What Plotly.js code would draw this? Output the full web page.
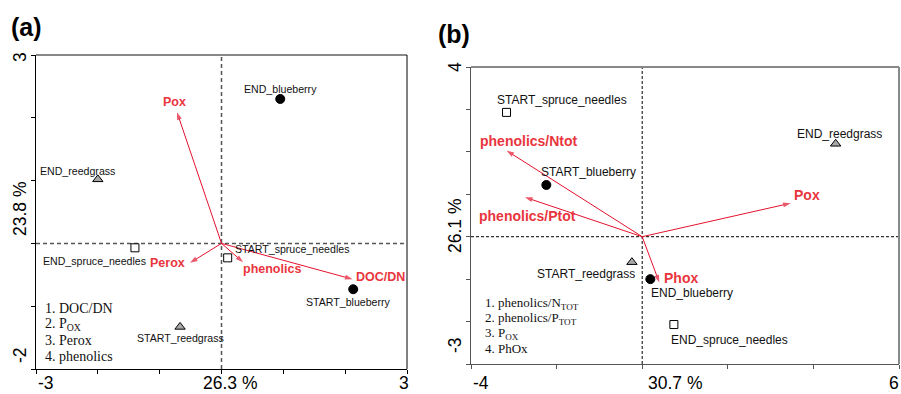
<!DOCTYPE html>
<html>
<head>
<meta charset="utf-8">
<script src="https://cdn.plot.ly/plotly-3.0.1.min.js"></script>
<style>html,body{margin:0;padding:0;background:#fff}#chart{width:901px;height:394px}</style>
</head>
<body>
<div id="chart"></div>
<script>
// ---------- DATA ----------
// Panel (a)
const samplesA = ["END_blueberry","END_reedgrass","END_spruce_needles","START_spruce_needles","START_blueberry","START_reedgrass"];
const sampleXA = [0.95, -2.00, -1.40, 0.10, 2.13, -0.67];
const sampleYA = [2.30, 1.02, -0.07, -0.23, -0.73, -1.33];
const varsA = ["Pox","Perox","phenolics","DOC/DN"];
const varXA = [-0.72, -0.51, 0.35, 2.12];
const varYA = [2.09, -0.31, -0.30, -0.57];
const legendA = ["1. DOC/DN","2. P<sub>OX</sub>","3. Perox","4. phenolics"];
const axisA = {xmin:"-3", xmax:"3", xtitle:"26.3 %", ymin:"-2", ymax:"3", ytitle:"23.8 %"};

// Panel (b)
const samplesB = ["START_spruce_needles","END_reedgrass","START_blueberry","START_reedgrass","END_blueberry","END_spruce_needles"];
const sampleXB = [-3.17, 4.52, -2.24, -0.24, 0.19, 0.74];
const sampleYB = [2.93, 2.19, 1.22, -0.60, -1.00, -2.07];
const varsB = ["phenolics/Ntot","phenolics/Ptot","Pox","Phox"];
const varXB = [-3.17, -2.74, 3.47, 0.40];
const varYB = [2.03, 0.93, 0.79, -1.08];
const legendB = ["1. phenolics/N<sub>TOT</sub>","2. phenolics/P<sub>TOT</sub>","3. P<sub>OX</sub>","4. PhOx"];
const axisB = {xmin:"-4", xmax:"6", xtitle:"30.7 %", ymin:"-3", ymax:"4", ytitle:"26.1 %"};

// ---------- STYLE ----------
const W = 901, H = 394;
const PX = x => x / W, PY = y => 1 - y / H;
const ARROW = '#e3122d', LABEL = '#e9353d';
const SANS = 'Liberation Sans, Arial, sans-serif';
const SERIF = 'Liberation Serif, Times New Roman, serif';

function markerStyle(name){
  if (name.indexOf('blueberry') >= 0) return {symbol:'circle', color:'#000', size:9};
  if (name.indexOf('reedgrass') >= 0) return {symbol:'triangle-up', color:'#a8a8a8', size:9};
  return {symbol:'square', color:'#fff', size:8};
}

// label offsets (pixels) [xanchor, xshift, yshift]
const labOffA = [['center',0,10],['center',-20,8],['center',-40,-13],['left',5,9],['center',-5,-13],['center',0,-11]];
const labOffB = [['center',55,12],['center',4,10],['center',42,13],['right',5,-12],['left',-1,-14],['left',-5,-15]];
const varOffA = [['center',-2,10],['right',-3,0],['left',-2,-7],['left',1,2]];
const varOffB = [['left',-29,10],['left',-48,-19],['left',1,8],['left',3,5]];

const data = [];
const annotations = [];
const shapes = [];

function pointsTrace(names, xs, ys, xa, ya){
  const st = names.map(markerStyle);
  return {
    type:'scatter', mode:'markers', x:xs, y:ys, xaxis:xa, yaxis:ya,
    hoverinfo:'text', text:names, cliponaxis:false,
    marker:{symbol:st.map(s=>s.symbol), color:st.map(s=>s.color), size:st.map(s=>s.size),
            opacity:1, line:{color:'#000', width:1}}
  };
}

function panel(samples, sx, sy, vars, vx, vy, offS, offV, xa, ya, fsLab, fsVar){
  // arrows from the origin to each variable's loading
  vars.forEach((v,i)=>{
    data.push({type:'scatter', mode:'lines+markers', x:[0, vx[i]], y:[0, vy[i]], xaxis:xa, yaxis:ya,
      hoverinfo:'skip', cliponaxis:false,
      line:{color:ARROW, width:1},
      marker:{symbol:['circle','arrow'], size:[0, 8], angleref:'previous', color:ARROW, line:{width:0}}});
  });
  data.push(pointsTrace(samples, sx, sy, xa, ya));
  const xr = xa, yr = ya;
  samples.forEach((s,i)=>{
    annotations.push({xref:xr, yref:yr, x:sx[i], y:sy[i], text:s, showarrow:false,
      xanchor:offS[i][0], yanchor:'middle', xshift:offS[i][1], yshift:offS[i][2],
      font:{family:SANS, size:fsLab, color:'#111'}});
  });
  vars.forEach((v,i)=>{
    annotations.push({xref:xr, yref:yr, x:vx[i], y:vy[i], text:v, showarrow:false,
      xanchor:offV[i][0], yanchor:'middle', xshift:offV[i][1], yshift:offV[i][2],
      font:{family:SANS, size:fsVar, color:LABEL, weight:'bold'}});
  });
}

panel(samplesA, sampleXA, sampleYA, varsA, varXA, varYA, labOffA, varOffA, 'x', 'y', 10.6, 12.5);
panel(samplesB, sampleXB, sampleYB, varsB, varXB, varYB, labOffB, varOffB, 'x2', 'y2', 12, 14);

// legends (numbered variable lists)
legendA.forEach((t,i)=>annotations.push({xref:'paper', yref:'paper', x:PX(43), y:PY(308+16*i), text:t,
  showarrow:false, xanchor:'left', yanchor:'middle', font:{family:SERIF, size:14, color:'#111'}}));
legendB.forEach((t,i)=>annotations.push({xref:'paper', yref:'paper', x:PX(483), y:PY(303+15.3*i), text:t,
  showarrow:false, xanchor:'left', yanchor:'middle', font:{family:SERIF, size:13, color:'#111'}}));

// axis labels
function axisLabels(a, L){
  const f = {family:SANS, size:17.5, color:'#000'};
  annotations.push({xref:'paper', yref:'paper', x:PX(L.x0), y:PY(L.yb), text:a.xmin, showarrow:false, xanchor:'left', yanchor:'middle', font:f});
  annotations.push({xref:'paper', yref:'paper', x:PX(L.xc), y:PY(L.yb), text:a.xtitle, showarrow:false, xanchor:'center', yanchor:'middle', font:f});
  annotations.push({xref:'paper', yref:'paper', x:PX(L.x1), y:PY(L.yb), text:a.xmax, showarrow:false, xanchor:'right', yanchor:'middle', font:f});
  annotations.push({xref:'paper', yref:'paper', x:PX(L.xl), y:PY(L.ytop), text:a.ymax, showarrow:false, textangle:-90, xanchor:'center', yanchor:'middle', font:f});
  annotations.push({xref:'paper', yref:'paper', x:PX(L.xl), y:PY(L.yc), text:a.ytitle, showarrow:false, textangle:-90, xanchor:'center', yanchor:'middle', font:f});
  annotations.push({xref:'paper', yref:'paper', x:PX(L.xl), y:PY(L.ybot), text:a.ymin, showarrow:false, textangle:-90, xanchor:'center', yanchor:'middle', font:f});
}
axisLabels(axisA, {x0:36, x1:411, xc:230, yb:383, xl:20, ytop:57, yc:209, ybot:355});
axisLabels(axisB, {x0:471, x1:901, xc:675, yb:383, xl:455, ytop:67, yc:226, ybot:345});

// panel letters
annotations.push({xref:'paper', yref:'paper', x:PX(9), y:PY(27), text:'<b>(a)</b>', showarrow:false, xanchor:'left', yanchor:'middle', font:{family:SANS, size:25, color:'#000'}});
annotations.push({xref:'paper', yref:'paper', x:PX(436), y:PY(34), text:'<b>(b)</b>', showarrow:false, xanchor:'left', yanchor:'middle', font:{family:SANS, size:25, color:'#000'}});

// dashed origin lines and frames
function frame(xr, yr, dashColor, dash, dw, rightColor, rightW){
  const xd = xr + ' domain', yd = yr + ' domain';
  shapes.push({type:'line', layer:'below', xref:xr, yref:yd, x0:0, x1:0, y0:0, y1:1, line:{color:dashColor, width:dw, dash:dash}});
  shapes.push({type:'line', layer:'below', xref:xd, yref:yr, x0:0, x1:1, y0:0, y1:0, line:{color:dashColor, width:dw, dash:dash}});
  shapes.push({type:'line', xref:xd, yref:yd, x0:0, x1:1, y0:1, y1:1, line:{color:'#888', width:2}});
  shapes.push({type:'line', xref:xd, yref:yd, x0:1, x1:1, y0:0, y1:1, line:{color:rightColor, width:rightW}});
}
frame('x','y','#555','4px,3px',1.5,'#000',1);
frame('x2','y2','#000','3px,2px',1,'#888',2);

const axBase = {showgrid:false, zeroline:false, showticklabels:false, ticks:'outside', ticklen:4,
  tickcolor:'#000', showline:true, linewidth:1, fixedrange:true};

const layout = {
  width:W, height:H, margin:{l:0,r:0,t:0,b:0}, showlegend:false,
  paper_bgcolor:'#fff', plot_bgcolor:'#fff',
  xaxis: Object.assign({}, axBase, {domain:[36/W, 407/W], range:[-3,3], tick0:0, dtick:1, anchor:'y', linecolor:'#000'}),
  yaxis: Object.assign({}, axBase, {domain:[1-369/H, 1-55/H], range:[-2,3], tick0:0, dtick:1, anchor:'x', linecolor:'#000'}),
  xaxis2: Object.assign({}, axBase, {domain:[471/W, 899/W], range:[-4,6], tick0:0, dtick:2, anchor:'y2', linecolor:'#555', tickcolor:'#555'}),
  yaxis2: Object.assign({}, axBase, {domain:[1-364/H, 1-67/H], range:[-3,4], tick0:0, dtick:1, anchor:'x2', linecolor:'#555', tickcolor:'#555'}),
  annotations: annotations,
  shapes: shapes
};

Plotly.newPlot('chart', data, layout, {displayModeBar:false, staticPlot:true});
</script>
</body>
</html>
